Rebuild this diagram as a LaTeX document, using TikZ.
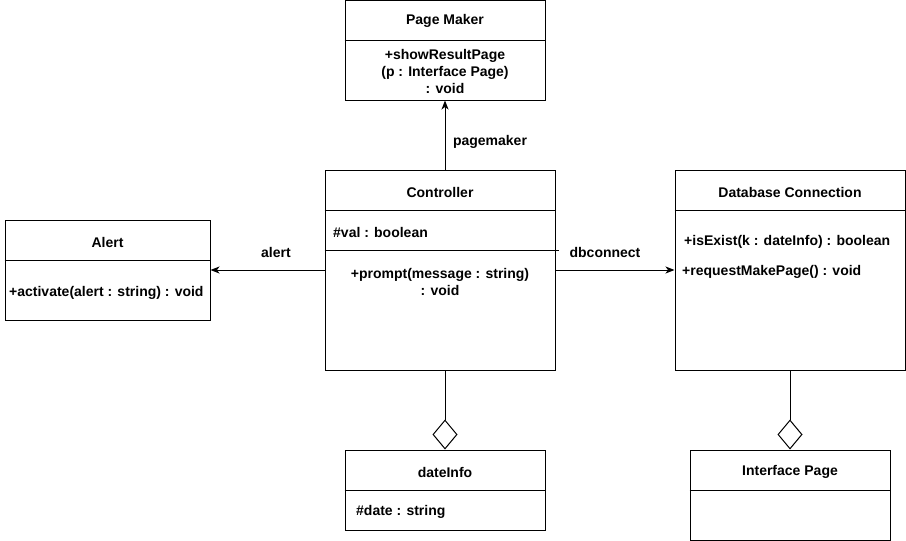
\documentclass[tikz,border=0pt]{standalone}
\usepackage{fontspec}
\setmainfont{Liberation Sans}
\usetikzlibrary{arrows.meta}
\begin{document}
\begin{tikzpicture}[x=1pt,y=-1pt,
  box/.style={draw, line width=1pt, rectangle, inner sep=0pt, fill=white},
  txt/.style={inner sep=0pt, font=\fontsize{14}{17}\selectfont\bfseries, align=center, yshift=-1pt},
  ltxt/.style={txt, anchor=west},
  arr/.style={line width=1pt, -{Stealth[length=9pt,width=7pt,inset=2.5pt]}},
  agg/.style={line width=1pt, {Diamond[open,length=30pt,width=25pt]}-}]
\useasboundingbox (0,0) rectangle (906,541);
% boxes
\node[box, minimum width=200pt, minimum height=100pt] (pm) at (445,50) {};
\node[box, minimum width=230pt, minimum height=200pt] (ctrl) at (440,270) {};
\node[box, minimum width=205pt, minimum height=100pt] (alert) at (107.5,270) {};
\node[box, minimum width=230pt, minimum height=200pt] (db) at (790,270) {};
\node[box, minimum width=200pt, minimum height=80pt] (di) at (445,490) {};
\node[box, minimum width=200pt, minimum height=90pt] (ip) at (790,495) {};
% dividers
\draw[line width=1pt] (pm.west |- 0,40) -- (pm.east |- 0,40);
\draw[line width=1pt] (ctrl.west |- 0,210) -- (ctrl.east |- 0,210);
\draw[line width=1pt] (ctrl.west |- 0,250) -- (559,250);
\draw[line width=1pt] (alert.west |- 0,260) -- (alert.east |- 0,260);
\draw[line width=1pt] (db.west |- 0,210) -- (db.east |- 0,210);
\draw[line width=1pt] (di.west |- 0,490) -- (di.east |- 0,490);
\draw[line width=1pt] (ip.west |- 0,490) -- (ip.east |- 0,490);
% texts
\node[txt] (pmt) at (445,20) {Page Maker};
\node[txt] (pmm) at (445,70) {+showResultPage\\(p : Interface Page)\\: void};
\node[txt] (ct) at (440,191) {Controller};
\node[ltxt] (cv) at (333,231) {\#val : boolean};
\node[txt, font=\fontsize{14}{16.5}\selectfont\bfseries] (cm) at (440,281) {+prompt(message : string)\\: void};
\node[txt] (at) at (107.5,241) {Alert};
\node[ltxt] (am) at (9,292) {+activate(alert : string) : void};
\node[txt] (dbt) at (790,191) {Database Connection};
\node[ltxt] (dbm1) at (684,241) {+isExist(k : dateInfo) : boolean};
\node[ltxt] (dbm2) at (682,271) {+requestMakePage() : void};
\node[txt] (dit) at (445,471) {dateInfo};
\node[ltxt] (dia) at (356,511) {\#date : string};
\node[txt] (ipt) at (790,471) {Interface Page};
% connectors
\draw[arr] (ctrl.north -| pm.south) -- (pm.south);
\node[txt] (lpm) at (490,141) {pagemaker};
\draw[arr] (ctrl.west) -- (alert.east);
\node[txt] (lal) at (276,251) {alert};
\draw[arr] (ctrl.east) -- (db.west);
\node[txt] (ldb) at (605,251) {dbconnect};
\draw[agg] (di.north) -- (di.north |- ctrl.south);
\draw[agg] (ip.north) -- (db.south);
\end{tikzpicture}
\end{document}
